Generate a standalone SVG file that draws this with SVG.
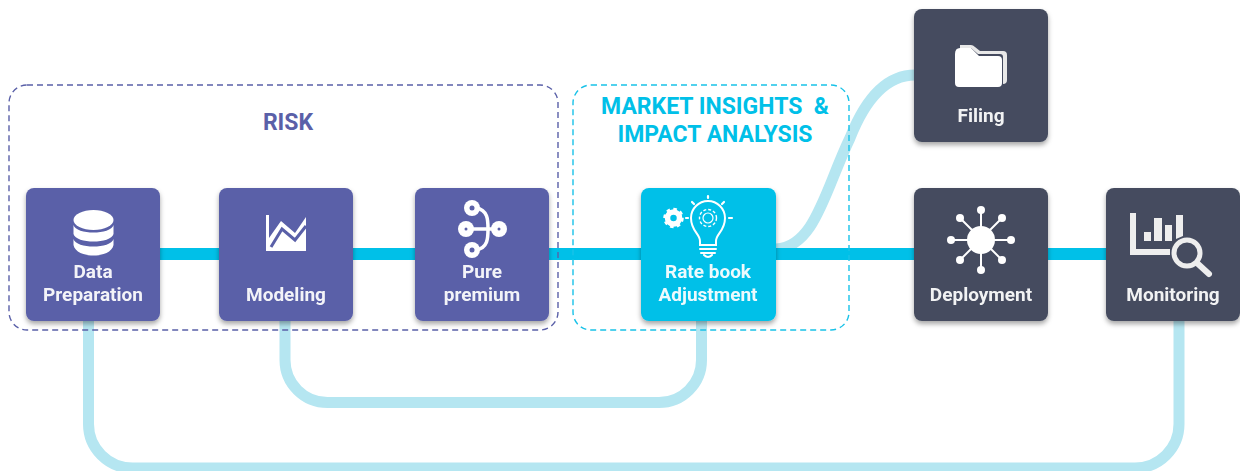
<svg xmlns="http://www.w3.org/2000/svg" width="1240" height="471" viewBox="0 0 1240 471">
<defs>
<filter id="sh" x="-15%" y="-15%" width="130%" height="135%"><feDropShadow dx="0" dy="3" stdDeviation="2.5" flood-color="#000" flood-opacity="0.35"/></filter>
</defs>
<style>
.card{filter:url(#sh)}
.p{fill:#5a60a8}.c{fill:#00c0e8}.d{fill:#444c5f}
.t{font-family:Roboto,"Liberation Sans",sans-serif;font-weight:700;font-size:19px;fill:#fff;text-anchor:middle;opacity:.93}
.h{font-family:Roboto,"Liberation Sans",sans-serif;font-weight:700;font-size:23px;text-anchor:middle}
.lt{fill:none;stroke:#b5e6f1;stroke-width:11}
.mn{fill:none;stroke:#00c0e8;stroke-width:12}
.w{fill:#fff}.ws{fill:none;stroke:#fff;stroke-linecap:round}
</style>
<rect width="1240" height="471" fill="#fff"/>
<g id="connectors">
<path class="lt" d="M88.500 320V424A44 44 0 0 0 132.500 468H1135A44 44 0 0 0 1179 424V320"/>
<path class="lt" d="M285 320V360A42.500 42.500 0 0 0 327.500 402.500H659A42.500 42.500 0 0 0 701.500 360V320"/>
<path class="lt" d="M776 249C815 247 825 190 850 138C865 100 885 75 915 75"/>
<path class="mn" d="M160 254H1106"/>
</g>
<g id="group-risk">
<rect x="9" y="85" width="549" height="245" rx="18" fill="none" stroke="#5a60a8" stroke-width="1.400" stroke-dasharray="6 4"/>
<text class="h" x="288" y="130" fill="#5a60a8">RISK</text>
</g>
<g id="group-market">
<rect x="573" y="85" width="276" height="245" rx="18" fill="none" stroke="#19c2e8" stroke-width="1.400" stroke-dasharray="6 4"/>
<text class="h" x="715" y="114" fill="#00c0e8" xml:space="preserve">MARKET INSIGHTS  &amp;</text>
<text class="h" x="715" y="142" fill="#00c0e8">IMPACT ANALYSIS</text>
</g>
<g id="data-preparation">
<rect class="card p" x="26" y="188" width="134" height="133" rx="8"/>
<ellipse class="w" cx="93.500" cy="220" rx="20" ry="10"/>
<path class="w" d="M73.500 225C76 235 111 235 113.500 225V234C111 244 76 244 73.500 234Z"/>
<path class="w" d="M73.500 239C76 249 111 249 113.500 239V245C111 259 76 259 73.500 245Z"/>
<text class="t" x="93" y="278">Data</text><text class="t" x="93" y="301">Preparation</text>
</g>
<g id="modeling">
<rect class="card p" x="219" y="188" width="134" height="133" rx="8"/>
<path class="w" d="M266 215H269V238L281 221L295 233L306 217V251H266Z"/>
<path d="M271 247L282 229L295 240L306 226" fill="none" stroke="#5a60a8" stroke-width="3"/>
<text class="t" x="286" y="301">Modeling</text>
</g>
<g id="pure-premium">
<rect class="card p" x="415" y="188" width="134" height="133" rx="8"/>
<path class="ws" stroke-width="3.500" d="M476 208C488 210 488 220 488 229S488 248 476 250M470 229H495"/>
<circle class="w" cx="472" cy="208" r="8"/><circle class="w" cx="472" cy="250" r="8"/>
<circle class="w" cx="466" cy="229" r="8"/><circle class="w" cx="499" cy="229" r="8"/>
<circle cx="472" cy="208" r="2.500" fill="#5a60a8"/><circle cx="472" cy="250" r="2.500" fill="#5a60a8"/>
<circle cx="466" cy="229" r="1.500" fill="#5a60a8"/><circle cx="499" cy="229" r="1.500" fill="#5a60a8"/>
<text class="t" x="482" y="278">Pure</text><text class="t" x="482" y="301">premium</text>
</g>
<g id="rate-book-adjustment">
<rect class="card c" x="641" y="188" width="135" height="133" rx="8"/>
<circle cx="673.500" cy="218" r="6" fill="none" stroke="#fff" stroke-width="5.500"/>
<circle cx="673.500" cy="218" r="9" fill="none" stroke="#fff" stroke-width="2.500" stroke-dasharray="3.500 3.500"/>
<path class="ws" stroke-width="2" d="M700 241C700 234 691 231 691 218A17 17 0 0 1 725 218C725 231 716 234 716 241V245H700ZM700 249H716M701 253H715M704 255Q708 259 712 255"/>
<circle cx="708" cy="218" r="5" fill="none" stroke="#fff" stroke-width="1.200"/>
<circle cx="708" cy="218" r="8.500" fill="none" stroke="#fff" stroke-width="1.400" stroke-dasharray="3 2"/>
<path class="ws" stroke-width="2.200" d="M708 196V198M692 202L694 204M724 202L722 204M686 218H688M729 218H732"/>
<text class="t" x="708" y="278">Rate book</text><text class="t" x="708" y="301">Adjustment</text>
</g>
<g id="filing">
<rect class="card d" x="914" y="9" width="134" height="133" rx="8"/>
<path fill="#e8e8e8" d="M960 45H971Q973 45 975 47L980 51H1003Q1007 51 1007 55V80Q1007 84 1003 84V57Q1003 54 1000 54H978L971 48H960Z"/>
<path class="w" d="M955 54Q955 48 960 48H971L979 56H998Q1002 56 1002 60V83Q1002 87 998 87H959Q955 87 955 83Z"/>
<text class="t" x="981" y="122">Filing</text>
</g>
<g id="deployment">
<rect class="card d" x="914" y="188" width="134" height="133" rx="8"/>
<circle class="w" cx="981" cy="240" r="14"/>
<path class="ws" stroke-width="2" d="M981 211V269M951 240H1011M960 218L1002 260M1002 218L960 260"/>
<circle class="w" cx="981" cy="210" r="4"/><circle class="w" cx="981" cy="270" r="4"/>
<circle class="w" cx="951" cy="240" r="4"/><circle class="w" cx="1011" cy="240" r="4"/>
<circle class="w" cx="960" cy="218" r="4"/><circle class="w" cx="1002" cy="218" r="4"/>
<circle class="w" cx="960" cy="260" r="4"/><circle class="w" cx="1002" cy="260" r="4"/>
<text class="t" x="981" y="301">Deployment</text>
</g>
<g id="monitoring">
<rect class="card d" x="1106" y="188" width="134" height="133" rx="8"/>
<path d="M1133 213V252H1170" fill="none" stroke="#eee" stroke-width="6"/>
<path fill="#eee" d="M1144 232H1151V241H1144ZM1154 218H1162V241H1154ZM1165 225H1172V241H1165ZM1176 215H1183V236L1176 239Z"/>
<circle cx="1187" cy="253" r="13" fill="none" stroke="#eee" stroke-width="5"/>
<path d="M1197 263L1209 274" stroke="#eee" stroke-width="6" stroke-linecap="round"/>
<text class="t" x="1173" y="301">Monitoring</text>
</g>
</svg>
